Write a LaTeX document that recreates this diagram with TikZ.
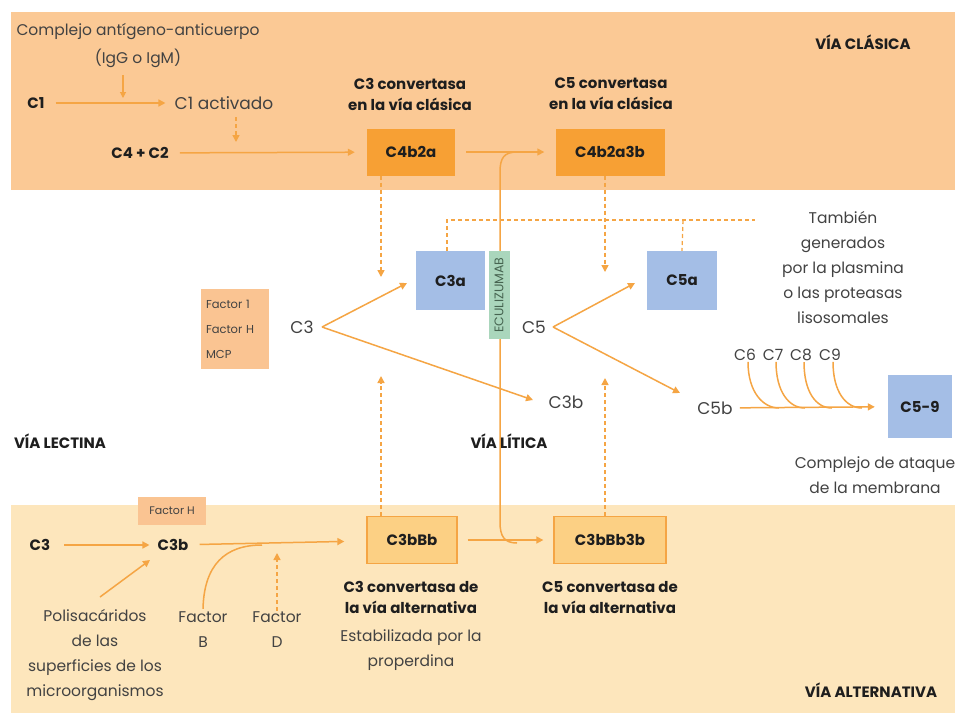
\documentclass[tikz,border=0pt]{standalone}
\usepackage{fontspec}
\setmainfont{Poppins}
\usetikzlibrary{arrows.meta}
\definecolor{bandtop}{RGB}{251,201,149}
\definecolor{bandbot}{RGB}{253,230,188}
\definecolor{ao}{RGB}{245,165,68}
\definecolor{darkbox}{RGB}{247,160,52}
\definecolor{ybox}{RGB}{252,208,132}
\definecolor{bluebox}{RGB}{164,190,230}
\definecolor{greenbox}{RGB}{170,214,188}
\definecolor{facbox}{RGB}{250,196,146}
\definecolor{tg}{RGB}{66,66,66}
\definecolor{tb}{RGB}{30,30,30}
\definecolor{tgreen}{RGB}{70,100,80}
\begin{document}
\begin{tikzpicture}[x=1pt,y=-1pt,
  arr/.style={draw=ao, line width=1.5pt, -{Triangle[length=7pt,width=7pt]}},
  arrthin/.style={draw=ao, line width=1.1pt, -{Triangle[length=6pt,width=6pt]}},
  darr/.style={arr, dash pattern=on 4pt off 3pt},
  dln/.style={draw=ao, line width=1.3pt, dash pattern=on 4pt off 3pt},
  ln/.style={draw=ao, line width=1.5pt},
  rt/.style={text=tg, font=\fontsize{15.5}{25}\selectfont, inner sep=1pt, align=center},
  mt/.style={text=tg, font=\fontsize{17}{20}\selectfont, inner sep=1pt},
  bt/.style={text=tb, font=\bfseries\fontsize{15}{21}\selectfont, inner sep=1pt, align=center},
  dboxs/.style={fill=darkbox, text=tb, font=\bfseries\fontsize{15}{17}\selectfont, minimum height=47pt, inner sep=0pt},
  yboxs/.style={fill=ybox, draw=ao, line width=1.3pt, text=tb, font=\bfseries\fontsize{15}{17}\selectfont, minimum height=47pt, inner sep=0pt},
  bboxs/.style={fill=bluebox, text=tb, font=\bfseries\fontsize{15}{17}\selectfont, minimum height=59pt, inner sep=0pt},
  fboxs/.style={fill=facbox, text=tg, font=\fontsize{11.5}{25}\selectfont, inner sep=0pt}
]
\useasboundingbox (0,0) rectangle (955,713);
\fill[white] (0,0) rectangle (955,713);
\fill[bandtop] (11,12) rectangle (955,190);
\fill[bandbot] (11,505) rectangle (955,713);

% ---------- top band ----------
\node[rt] (cag) at (138,32) {Complejo antígeno-anticuerpo};
\node[rt] (igg) at (138,58) {(IgG o IgM)};
\coordinate (iggS) at (123,75);
\coordinate (iggT) at (123,98);
\draw[arrthin] (iggS) -- (iggT);
\node[bt] (c1) at (36,103) {C1};
\node[mt] (c1a) at (224,103) {C1 activado};
\draw[arr, shorten <=10pt, shorten >=8pt] (c1) -- (c1a);
\coordinate (c1aS) at (236,117);
\coordinate (c1aT) at (236,142);
\draw[darr] (c1aS) -- (c1aT);
\node[bt] (c4c2) at (140,153) {C4 + C2};
\node[dboxs, minimum width=88pt] (c4b2a) at (411,152) {C4b2a};
\node[dboxs, minimum width=109pt] (c4b2a3b) at (610,152) {C4b2a3b};
\draw[arr, shorten <=10pt, shorten >=12pt] (c4c2) -- (c4b2a);
\draw[arr, shorten <=11pt, shorten >=11pt] (c4b2a) -- (c4b2a3b);
\node[bt] (c3conv) at (410,94) {C3 convertasa\\en la vía clásica};
\node[bt] (c5conv) at (611,94) {C5 convertasa\\en la vía clásica};
\node[bt] (vc) at (863,42) {VÍA CLÁSICA};

% ---------- eculizumab line ----------
\coordinate (ecTop) at (517,152);
\coordinate (ecBot) at (517,543);
\draw[ln] (ecTop) .. controls (504,152) and (500,158) .. (500,172) -- (500,522) .. controls (500,536) and (504,543) .. (ecBot);
\node[fill=greenbox, rotate=90, minimum width=88pt, minimum height=21pt, inner sep=0pt, text=tgreen, font=\fontsize{12.5}{13}\selectfont] (ecu) at (499,295) {ECULIZUMAB};

% ---------- middle ----------
\node[bboxs, minimum width=69pt] (c3a) at (450.5,280.5) {C3a};
\node[bboxs, minimum width=70pt] (c5a) at (682,280.5) {C5a};
\node[fboxs, minimum width=68pt, minimum height=80pt, align=left, text width=58pt] (fac) at (235,329) {Factor 1\\Factor H\\MCP};
\node[mt] (c3m) at (302,327) {C3};
\node[mt] (c3bm) at (566,402) {C3b};
\node[mt] (c5m) at (534,327) {C5};
\node[mt] (c5bm) at (715,408) {C5b};
\node[bboxs, minimum width=64pt, minimum height=63pt] (c59) at (920,406.5) {C5-9};

\coordinate (c3sp) at (322,327);
\coordinate (c3tA) at (407,283);
\coordinate (c3tB) at (533,400);
\draw[arr] (c3sp) -- (c3tA);
\draw[arr] (c3sp) -- (c3tB);
\coordinate (c5sp) at (553,327);
\coordinate (c5tA) at (635,283);
\coordinate (c5tB) at (680,393);
\draw[arr] (c5sp) -- (c5tA);
\draw[arr] (c5sp) -- (c5tB);

\draw[darr] ([xshift=-30pt]c4b2a.south) -- (381,277);
\draw[darr] ([xshift=-5pt]c4b2a3b.south) -- (605,272);

\coordinate (dA) at (447,220);
\coordinate (dB) at (755,220);
\coordinate (dC) at (683,220);
\draw[dln] ([xshift=-3.5pt]c3a.north) -- (dA) -- (dB);
\draw[dln] (dC) -- (c5a.north);

\node[rt] (tamb) at (843,268) {También\\generados\\por la plasmina\\o las proteasas\\lisosomales};

\draw[arr, shorten <=6pt, shorten >=13pt] (c5bm) -- (c59);
\node[rt] (c6) at (745,355) {C6};
\node[rt] (c7) at (773,355) {C7};
\node[rt] (c8) at (801,355) {C8};
\node[rt] (c9) at (830,355) {C9};
\coordinate (j6) at (779,408);
\coordinate (j7) at (805,408);
\coordinate (j8) at (832,408);
\coordinate (j9) at (862,408);
\draw[ln] ([xshift=3pt]c6.south) .. controls +(0,30) and +(-16,0) .. (j6);
\draw[ln] ([xshift=3pt]c7.south) .. controls +(0,30) and +(-16,0) .. (j7);
\draw[ln] ([xshift=3pt]c8.south) .. controls +(0,30) and +(-16,0) .. (j8);
\draw[ln] ([xshift=3pt]c9.south) .. controls +(0,30) and +(-16,0) .. (j9);

\node[rt] (cat) at (875,475) {Complejo de ataque\\de la membrana};
\node[bt] (vl) at (60,441) {VÍA LECTINA};
\node[bt] (vli) at (509,441) {VÍA LÍTICA};

% ---------- bottom band ----------
\node[fboxs, minimum width=68pt, minimum height=28pt, font=\fontsize{11}{12}\selectfont] (fh) at (172,511) {Factor H};
\node[bt] (c3l) at (40,545) {C3};
\node[bt] (c3bl) at (173,545) {C3b};
\draw[arr, shorten <=13pt, shorten >=7pt] (c3l) -- (c3bl);
\node[rt] (pol) at (95,655) {Polisacáridos\\de las\\superficies de los\\microorganismos};
\coordinate (polS) at (100,597);
\coordinate (polT) at (150,560);
\draw[arr] (polS) -- (polT);
\node[rt] (fb) at (203,630) {Factor\\B};
\node[rt] (fd) at (277,630) {Factor\\D};
\node[yboxs, minimum width=90pt] (c3bbb) at (412,540) {C3bBb};
\node[yboxs, minimum width=112pt] (c3bbb3b) at (610,540) {C3bBb3b};
\draw[arr, shorten <=10pt, shorten >=22pt] (c3bl) -- (c3bbb);
\coordinate (fbJ) at (262,545);
\draw[ln] ([yshift=2pt]fb.north) .. controls (204,565) and (225,545) .. (fbJ);
\coordinate (fdT) at (277,553);
\draw[darr] (fd.north) -- (fdT);
\draw[arr, shorten <=10pt, shorten >=10pt] (c3bbb) -- (c3bbb3b);
\draw[darr] ([xshift=-31pt]c3bbb.north) -- (381,376);
\draw[darr] ([xshift=-5pt]c3bbb3b.north) -- (605,378);
\node[bt] (c3cva) at (411,597) {C3 convertasa de\\la vía alternativa};
\node[bt] (c5cva) at (610,597) {C5 convertasa de\\la vía alternativa};
\node[rt] (est) at (411,650) {Estabilizada por la\\properdina};
\node[bt] (va) at (871,690) {VÍA ALTERNATIVA};
\end{tikzpicture}
\end{document}
